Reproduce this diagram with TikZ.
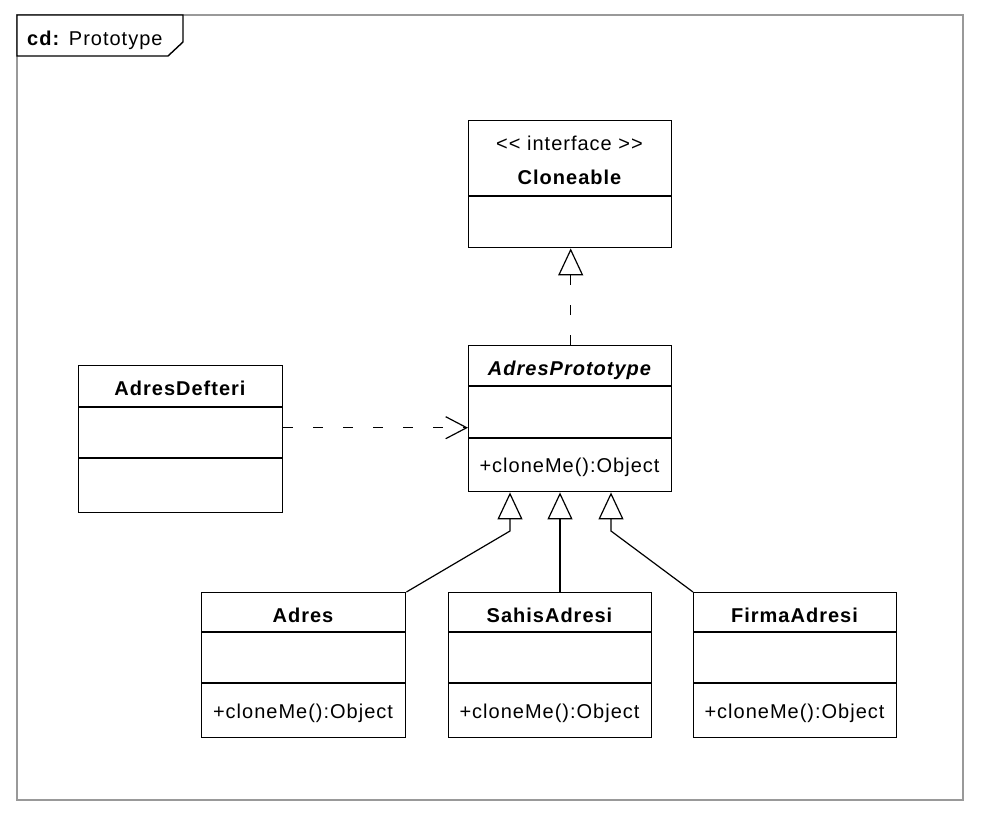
\documentclass[tikz,border=0pt]{standalone}
\usepackage{fontspec}
\setmainfont{Liberation Sans}[LetterSpace=5.0]
\usetikzlibrary{arrows.meta}
\begin{document}
\begin{tikzpicture}[x=1pt,y=-1pt,
  box/.style={draw=black,line width=1.4pt,rectangle,inner sep=0pt,anchor=north west,minimum width=203pt},
  divl/.style={draw=black,line width=1.4pt},
  ttl/.style={anchor=base,inner sep=0pt,font=\fontsize{20}{24}\selectfont\bfseries},
  itl/.style={anchor=base,inner sep=0pt,font=\fontsize{20}{24}\selectfont\bfseries\itshape},
  txt/.style={anchor=base,inner sep=0pt,font=\fontsize{20}{24}\selectfont},
  gen/.style={draw=black,line width=1.2pt,-{Triangle[open,length=27pt,width=25pt,line width=1.2pt]}},
  real/.style={gen,dash pattern=on 10pt off 20pt},
  dep/.style={draw=black,line width=1.2pt,dash pattern=on 10pt off 20pt,-{Straight Barb[length=21pt,width=22pt,line width=1.2pt]}}]
\useasboundingbox (0,0) rectangle (988,823);
\fill[white] (0,0) rectangle (988,823);
% frame
\draw[line width=1.4pt,draw=black!40] (17,15) rectangle (963,800);
\draw[line width=1.4pt,fill=white] (17,15) -- (183,15) -- (183,42) -- (168,56) -- (17,56) -- cycle;
\node[txt,anchor=base west] (tab) at (27,45) {\textbf{cd:} Prototype};
% Cloneable
\node[box,minimum height=127pt] (clone) at (468,120) {};
\draw[divl] (clone.north west) ++(0,76) -- ++(203,0);
\node[txt] (cloneS) at (569.5,150) {<{}< interface >{}>};
\node[ttl] (cloneT) at (569.5,184) {Cloneable};
% AdresPrototype
\node[box,minimum height=146pt] (proto) at (468,345) {};
\draw[divl] (proto.north west) ++(0,41) -- ++(203,0);
\draw[divl] (proto.north west) ++(0,93) -- ++(203,0);
\node[itl] (protoT) at (569.5,375) {AdresPrototype};
\node[txt] (protoM) at (569.5,472) {+cloneMe():Object};
% AdresDefteri
\node[box,minimum height=147pt,minimum width=204pt] (deft) at (78,365) {};
\draw[divl] (deft.north west) ++(0,42) -- ++(204,0);
\draw[divl] (deft.north west) ++(0,93) -- ++(204,0);
\node[ttl] (deftT) at (180,395) {AdresDefteri};
% Adres
\node[box,minimum height=145pt,minimum width=204pt] (adres) at (201,592) {};
\draw[divl] (adres.north west) ++(0,40) -- ++(204,0);
\draw[divl] (adres.north west) ++(0,91) -- ++(204,0);
\node[ttl] (adresT) at (303,622) {Adres};
\node[txt] (adresM) at (303,718) {+cloneMe():Object};
% SahisAdresi
\node[box,minimum height=145pt] (sahis) at (448,592) {};
\draw[divl] (sahis.north west) ++(0,40) -- ++(203,0);
\draw[divl] (sahis.north west) ++(0,91) -- ++(203,0);
\node[ttl] (sahisT) at (549.5,622) {SahisAdresi};
\node[txt] (sahisM) at (549.5,718) {+cloneMe():Object};
% FirmaAdresi
\node[box,minimum height=145pt] (firma) at (693,592) {};
\draw[divl] (firma.north west) ++(0,40) -- ++(203,0);
\draw[divl] (firma.north west) ++(0,91) -- ++(203,0);
\node[ttl] (firmaT) at (794.5,622) {FirmaAdresi};
\node[txt] (firmaM) at (794.5,718) {+cloneMe():Object};
% connectors
\draw[real] ([xshift=0.5pt]proto.north) -- ([xshift=0.5pt]clone.south);
\draw[dep] ([yshift=11.5pt]deft.east) -- ([yshift=11.5pt]deft.east -| proto.west);
\coordinate (t1) at ([xshift=42pt]proto.south west);
\coordinate (t2) at ([xshift=92pt]proto.south west);
\coordinate (t3) at ([xshift=143pt]proto.south west);
\draw[gen] (adres.north east) -- (t1 |- 0,531) -- (t1);
\draw[gen] (t2 |- sahis.north) -- (t2);
\draw[gen] (firma.north west) -- (t3 |- 0,531) -- (t3);
\end{tikzpicture}
\end{document}
